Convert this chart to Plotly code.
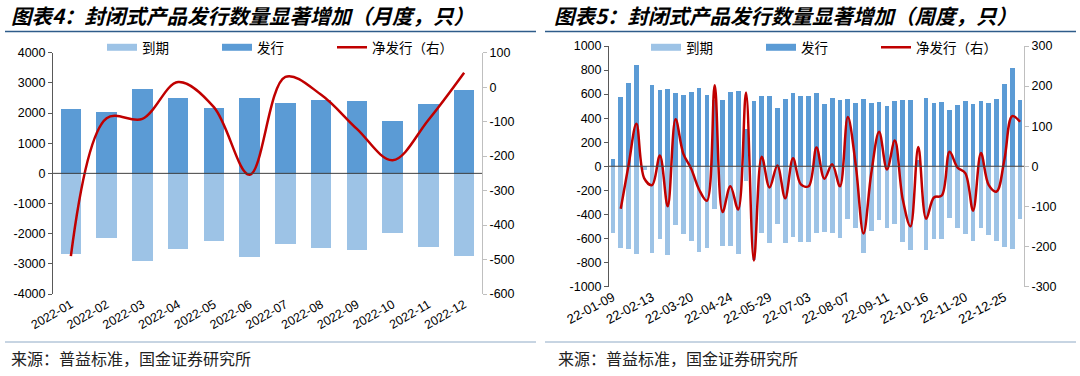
import plotly.graph_objects as go
import pandas as pd

# ---------------- data ----------------
months = ["2022-01", "2022-02", "2022-03", "2022-04", "2022-05", "2022-06",
          "2022-07", "2022-08", "2022-09", "2022-10", "2022-11", "2022-12"]
m_issue = [2155, 2030, 2818, 2519, 2188, 2519, 2354, 2453, 2398, 1757, 2320, 2785]
m_mature = [-2652, -2120, -2906, -2508, -2243, -2773, -2331, -2475, -2519, -1967, -2420, -2740]
m_net = [-490, -90, -92, 15, -58, -254, 30, -22, -121, -212, -95, 42]

weeks = [d.strftime("%y-%m-%d") for d in pd.date_range("2022-01-09", periods=53, freq="7D")]
w_issue = [64, 572, 689, 839, 0, 675, 633, 639, 606, 592,
           619, 653, 592, 555, 550, 614, 625, 306, 542, 583,
           583, 486, 556, 606, 583, 583, 606, 514, 564, 550,
           558, 522, 556, 522, 536, 503, 542, 550, 550, 48,
           569, 528, 533, 467, 508, 544, 514, 544, 522, 556,
           686, 817, 547]
w_mature = [-553, -678, -686, -733, -30, -722, -606, -739, -489, -561,
            -625, -711, -678, -353, -664, -664, -733, -122, -777, -559,
            -636, -484, -636, -586, -628, -633, -559, -545, -559, -600,
            -435, -517, -724, -539, -450, -511, -478, -631, -700, 0,
            -700, -606, -606, -431, -511, -561, -625, -511, -569, -619,
            -669, -692, -436]
w_net = [None, -106, 3, 106, -30, -47, 27, -100, 117, 31,
         -6, -58, -86, 202, -114, -50, -108, 184, -235, 24,
         -53, 2, -80, 20, -45, -50, 47, -31, 5, -50,
         123, 5, -168, -17, 86, -8, 64, -81, -150, 48,
         -131, -78, -73, 36, -3, -17, -111, 33, -47, -63,
         17, 125, 111]
week_ticks = weeks[::5]

m_left_ticks = [4000, 3000, 2000, 1000, 0, -1000, -2000, -3000, -4000]
m_right_ticks = [100, 0, -100, -200, -300, -400, -500, -600]
w_left_ticks = [1000, 800, 600, 400, 200, 0, -200, -400, -600, -800, -1000]
w_right_ticks = [300, 200, 100, 0, -100, -200, -300]

titles = ["图表4：封闭式产品发行数量显著增加（月度，只）",
          "图表5：封闭式产品发行数量显著增加（周度，只）"]
source = "来源：普益标准，国金证券研究所"
series_names = ["到期", "发行", "净发行（右）"]

# ---------------- styling ----------------
C_MAT = "#9DC3E6"
C_ISS = "#5B9BD5"
C_NET = "#C00000"
FONT = "Liberation Sans, Arial, Noto Sans CJK SC"
CJK = "Noto Sans CJK SC"
W, H = 1080, 376


def px_x(v):  # screen px -> paper fraction
    return v / W


def px_y(v):
    return 1 - v / H


def lbl(v):
    return str(v)


fig = go.Figure()

panels = [
    dict(x=months, mat=m_mature, iss=m_issue, net=m_net, xa="x", ya="y", ya2="y2",
         legend="legend", width=0.58),
    dict(x=weeks, mat=w_mature, iss=w_issue, net=w_net, xa="x2", ya="y3", ya2="y4",
         legend="legend2", width=0.6),
]
for p in panels:
    fig.add_bar(x=p["x"], y=p["mat"], name=series_names[0], marker_color=C_MAT,
                width=p["width"], xaxis=p["xa"], yaxis=p["ya"], showlegend=False)
    fig.add_bar(x=p["x"], y=p["iss"], name=series_names[1], marker_color=C_ISS,
                width=p["width"], xaxis=p["xa"], yaxis=p["ya"], showlegend=False)
    fig.add_scatter(x=p["x"], y=p["net"], name=series_names[2], mode="lines",
                    connectgaps=True,
                    line=dict(color=C_NET, width=2.5, shape="spline", smoothing=1.0),
                    xaxis=p["xa"], yaxis=p["ya2"], legend=p["legend"])
    # legend keys shaped like the wide bar swatches of the original
    for nm, col in [(series_names[0], C_MAT), (series_names[1], C_ISS)]:
        fig.add_scatter(x=[None], y=[None], name=nm, mode="lines",
                        line=dict(color=col, width=7), xaxis=p["xa"], yaxis=p["ya"],
                        legend=p["legend"], legendrank=1 if nm == series_names[0] else 2,
                        hoverinfo="skip")

L_DOM_X = [px_x(53), px_x(482)]
L_DOM_Y = [px_y(294), px_y(52.7)]
R_DOM_X = [px_x(609), px_x(1024)]
R_DOM_Y = [px_y(286.5), px_y(46)]

yax_common = dict(showgrid=False, zeroline=False, showline=True, ticks="outside",
                  ticklen=4, automargin=False,
                  tickfont=dict(family=FONT, size=12.5, color="#000"))
xax_common = dict(type="category", showgrid=False, showline=False, zeroline=False,
                  ticks="", automargin=False)
leg_common = dict(orientation="h", y=px_y(47.5), xanchor="left", yanchor="middle",
                  entrywidth=70, bgcolor="rgba(0,0,0,0)", traceorder="normal",
                  itemwidth=30, font=dict(family=CJK, size=13.5, color="#000"))

fig.update_layout(
    template="none",
    width=W, height=H, margin=dict(l=0, r=0, t=0, b=0, pad=0, autoexpand=False),
    paper_bgcolor="white", plot_bgcolor="white",
    barmode="relative", bargap=0,
    showlegend=True,
    xaxis=dict(domain=L_DOM_X, anchor="y", range=[-0.5, 11.5],
               tickangle=-30, tickfont=dict(family=FONT, size=12.5, color="#000"), **xax_common),
    yaxis=dict(domain=L_DOM_Y, anchor="x", range=[-4000, 4000],
               tickmode="array", tickvals=m_left_ticks, ticktext=[lbl(v) for v in m_left_ticks],
               linecolor="#595959", tickcolor="#595959", **yax_common),
    yaxis2=dict(overlaying="y", side="right", anchor="x", range=[-600, 100],
                tickmode="array", tickvals=m_right_ticks, ticktext=[lbl(v) for v in m_right_ticks],
                linecolor="#BFBFBF", tickcolor="#BFBFBF", **yax_common),
    xaxis2=dict(domain=R_DOM_X, anchor="y3", range=[-0.5, 52.5],
                tickmode="array", tickvals=week_ticks, ticktext=week_ticks,
                tickangle=-28, tickfont=dict(family=FONT, size=13, color="#000"), **xax_common),
    yaxis3=dict(domain=R_DOM_Y, anchor="x2", range=[-1000, 1000],
                tickmode="array", tickvals=w_left_ticks, ticktext=[lbl(v) for v in w_left_ticks],
                linecolor="#595959", tickcolor="#595959", **yax_common),
    yaxis4=dict(overlaying="y3", side="right", anchor="x2", range=[-300, 300],
                tickmode="array", tickvals=w_right_ticks, ticktext=[lbl(v) for v in w_right_ticks],
                linecolor="#BFBFBF", tickcolor="#BFBFBF", **yax_common),
    legend=dict(x=px_x(102), **leg_common),
    legend2=dict(x=px_x(646), **leg_common),
)

# axis-crossing zero lines
fig.add_shape(type="line", xref="x domain", yref="y", x0=0, x1=1, y0=0, y1=0,
              line=dict(color="#404040", width=1), layer="above")
fig.add_shape(type="line", xref="x2 domain", yref="y3", x0=0, x1=1, y0=0, y1=0,
              line=dict(color="#404040", width=1), layer="above")

# title rules and footer rules
for x0, x1 in [(5, 536), (545, 1076)]:
    fig.add_shape(type="line", xref="paper", yref="paper", x0=px_x(x0), x1=px_x(x1),
                  y0=px_y(31.5), y1=px_y(31.5), line=dict(color="#2E5C8A", width=1.5))
    fig.add_shape(type="line", xref="paper", yref="paper", x0=px_x(x0), x1=px_x(x1),
                  y0=px_y(342), y1=px_y(342), line=dict(color="#8FAAC6", width=1))

for xs, t in [(9, titles[0]), (552, titles[1])]:
    fig.add_annotation(text="<b><i>" + t + "</i></b>", xref="paper", yref="paper",
                       x=px_x(xs), y=px_y(15.5), xanchor="left", yanchor="middle",
                       showarrow=False, font=dict(family=CJK, size=20.5, color="#000"))

for xs in [9, 556]:
    fig.add_annotation(text=source, xref="paper", yref="paper",
                       x=px_x(xs), y=px_y(358), xanchor="left", yanchor="middle",
                       showarrow=False, font=dict(family=CJK, size=16, color="#222"))

fig.write_html("out.html", config={"displayModeBar": False},
               post_script="document.body.style.margin='0';document.body.style.overflow='hidden';")
